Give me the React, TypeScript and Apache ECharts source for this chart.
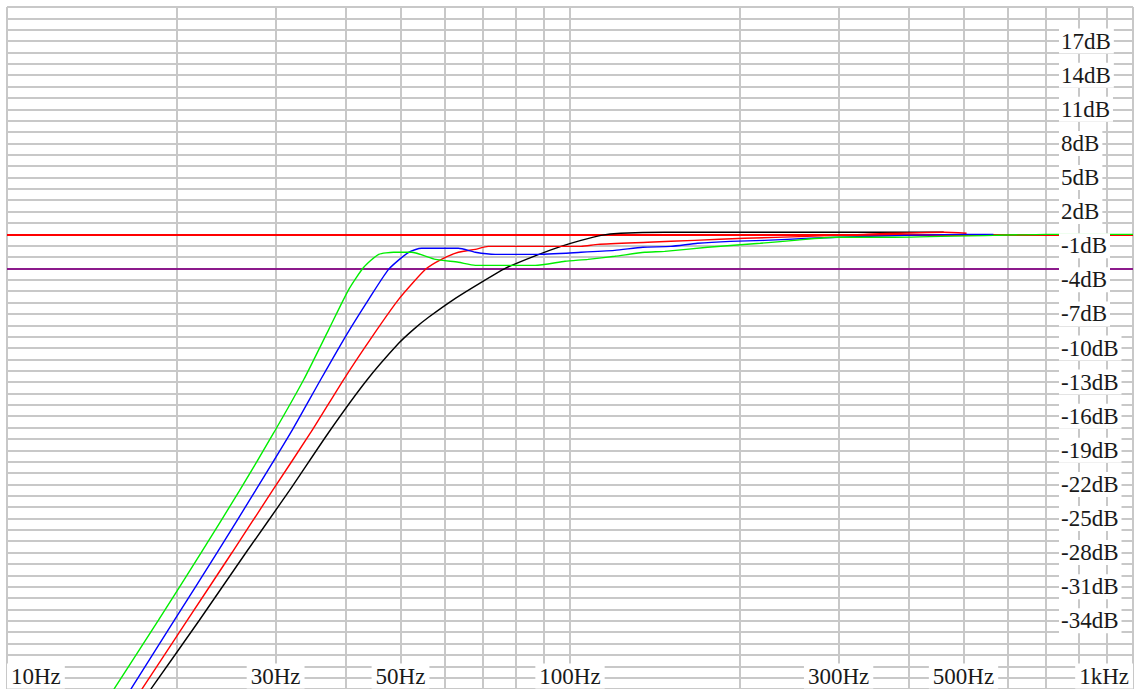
import React, { useEffect, useRef } from "react";
import * as echarts from "echarts";

// Vertical grid frequencies (Hz)
const GRID_FREQS = [10, 20, 30, 40, 50, 60, 70, 80, 90, 100, 200, 300, 400, 500, 600, 700, 800, 900, 1000];
// Frequency tick labels (Hz)
const X_LABEL_FREQS = [10, 30, 50, 100, 300, 500, 1000];
// dB tick labels
const Y_LABELS = [17, 14, 11, 8, 5, 2, -1, -4, -7, -10, -13, -16, -19, -22, -25, -28, -31, -34];
// Reference lines (dB)
const REF_ZERO_DB = 0;
const REF_MINUS3_DB = -3;

// Curves: frequency (Hz) and level (dB)
const greenFreq = [14.91, 15.53, 18.58, 22.14, 25.85, 29.81, 33.68, 37.29, 40.47, 43.02, 45.74, 48.61, 52.32, 57.68, 63.35, 67.88, 86.7, 98.0, 107.6, 120.1, 135.8, 147.3, 175.5, 217.8, 250.2, 295.7, 376.0, 565.1, 701.6, 1000];
const greenDb = [-41.3, -39.93, -33.95, -27.97, -22.6, -17.41, -12.75, -8.36, -4.84, -2.9, -1.76, -1.58, -1.58, -2.2, -2.46, -2.73, -2.73, -2.37, -2.2, -1.93, -1.58, -1.5, -1.14, -0.79, -0.53, -0.26, -0.26, -0.09, 0, 0];

const blueFreq = [15.98, 16.64, 19.83, 23.63, 27.59, 31.95, 36.1, 40.14, 43.9, 47.63, 51.69, 54.49, 63.35, 67.88, 73.66, 86.7, 104.6, 120.1, 134.7, 151.0, 168.5, 192.7, 221.4, 267.0, 336.8, 506.3, 565.1];
const blueDb = [-41.3, -39.93, -33.95, -27.97, -22.6, -17.41, -12.75, -8.8, -5.72, -3.08, -1.58, -1.23, -1.23, -1.58, -1.76, -1.76, -1.58, -1.41, -1.14, -1.06, -0.79, -0.62, -0.53, -0.35, -0.18, 0, 0];

const redFreq = [16.64, 17.41, 20.91, 25.12, 29.57, 34.66, 39.65, 44.44, 49.62, 55.39, 59.11, 63.35, 67.88, 71.58, 104.6, 112.1, 137.4, 166.4, 204.0, 263.8, 332.7, 461.1, 506.3];
const redDb = [-41.3, -39.93, -33.95, -27.97, -22.6, -17.41, -12.75, -9.06, -5.72, -3.08, -2.2, -1.58, -1.32, -1.06, -1.06, -0.88, -0.7, -0.53, -0.35, -0.18, 0, 0.18, 0.09];

const blackFreq = [17.27, 18.06, 21.96, 26.6, 31.69, 37.29, 43.55, 49.62, 52.75, 56.07, 62.58, 69.57, 76.73, 86.7, 96.4, 104.6, 113.5, 123.1, 147.3, 461.1];
const blackDb = [-41.3, -39.93, -33.95, -27.97, -22.6, -17.41, -12.84, -9.59, -8.36, -7.3, -5.63, -4.22, -2.99, -1.89, -1.06, -0.53, -0.09, 0.09, 0.18, 0.18];

const FONT = '"Liberation Serif", "Times New Roman", serif';
const GRID_COLOR = "#c8c8c8";

const toPoints = (f: number[], d: number[]) => f.map((v, i) => [Math.log10(v), d[i]]);

export default function App() {
  const ref = useRef<HTMLDivElement>(null);

  useEffect(() => {
    if (!ref.current) return;
    const chart = echarts.init(ref.current, undefined, { renderer: "svg" });

    const labelStyle = {
      fontFamily: FONT,
      fontSize: 23,
      color: "#1a1a1a",
      backgroundColor: "#ffffff",
    };

    const curve = (name: string, color: string, f: number[], d: number[]) => ({
      name,
      type: "line",
      data: toPoints(f, d),
      showSymbol: false,
      smooth: 0.2,
      lineStyle: { color, width: 1.4 },
      z: 4,
      silent: true,
    });

    const option: any = {
      animation: false,
      backgroundColor: "#ffffff",
      grid: { left: 7, right: 0, top: 7, bottom: 0, containLabel: false },
      xAxis: [
        {
          type: "value",
          min: 1,
          max: 3,
          position: "bottom",
          axisLine: { show: false },
          axisTick: { show: false },
          splitLine: { show: false },
          z: 10,
          axisLabel: {
            ...labelStyle,
            inside: true,
            margin: 13,
            verticalAlign: "middle",
            alignMinLabel: "left",
            alignMaxLabel: "right",
            padding: [1, 4, 1, 4],
            customValues: X_LABEL_FREQS.map((f) => Math.log10(f)),
            formatter: (v: number) => {
              const f = Math.round(Math.pow(10, v));
              return f >= 1000 ? f / 1000 + "kHz" : f + "Hz";
            },
          },
        },
      ],
      yAxis: [
        {
          type: "value",
          min: -40,
          max: 20,
          interval: 1,
          position: "left",
          axisLine: { show: false },
          axisTick: { show: false },
          axisLabel: { show: false },
          splitLine: { show: true, lineStyle: { color: GRID_COLOR, width: 2 } },
          z: 0,
        },
        {
          type: "value",
          min: -40,
          max: 20,
          interval: 1,
          position: "right",
          axisLine: { show: false },
          axisTick: { show: false },
          splitLine: { show: false },
          z: 10,
          axisLabel: {
            ...labelStyle,
            inside: true,
            align: "left",
            verticalAlign: "middle",
            margin: 74,
            padding: [1, 3, 1, 2],
            customValues: Y_LABELS,
            formatter: (v: number) => v + "dB",
          },
        },
      ],
      series: [
        {
          type: "lines",
          coordinateSystem: "cartesian2d",
          silent: true,
          z: 1,
          lineStyle: { color: GRID_COLOR, width: 2, opacity: 1 },
          data: GRID_FREQS.map((f) => ({
            coords: [
              [Math.log10(f), -40],
              [Math.log10(f), 20],
            ],
          })),
        },
        {
          type: "lines",
          coordinateSystem: "cartesian2d",
          silent: true,
          z: 2,
          data: [
            {
              coords: [
                [1, REF_ZERO_DB],
                [3, REF_ZERO_DB],
              ],
              lineStyle: { color: "#ff0000", width: 2, opacity: 1 },
            },
            {
              coords: [
                [1, REF_MINUS3_DB],
                [3, REF_MINUS3_DB],
              ],
              lineStyle: { color: "#8c1a8c", width: 2, opacity: 1 },
            },
          ],
        },
        curve("black", "#000000", blackFreq, blackDb),
        curve("red", "#ff0000", redFreq, redDb),
        curve("blue", "#0000ff", blueFreq, blueDb),
        curve("green", "#00ee00", greenFreq, greenDb),
      ],
    };

    chart.setOption(option);
    return () => chart.dispose();
  }, []);

  return (
    <div
      ref={ref}
      style={{ position: "absolute", left: 0, top: 0, width: 1136, height: 689 }}
    />
  );
}
